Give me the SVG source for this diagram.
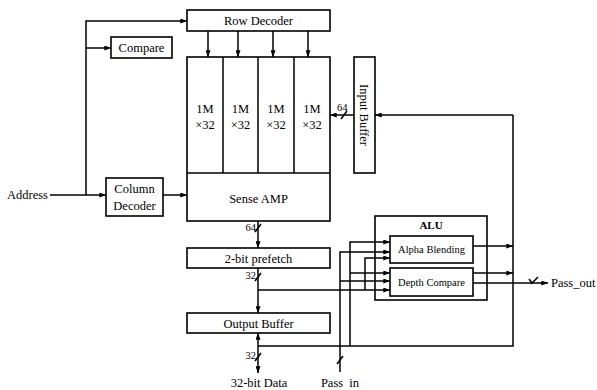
<svg xmlns="http://www.w3.org/2000/svg" width="597" height="390" viewBox="0 0 597 390">
<defs>
<marker id="ah" viewBox="0 0 8 6" refX="8" refY="3" markerWidth="7" markerHeight="5" markerUnits="userSpaceOnUse" orient="auto"><path d="M0,0 L8,3 L0,6 z" fill="#000"/></marker>
</defs>
<style>
.box{fill:#fff;stroke:#000;stroke-width:1.6}
.ln{fill:none;stroke:#000;stroke-width:1.5}
.arr{fill:none;stroke:#000;stroke-width:1.5;marker-end:url(#ah)}
text{font-family:"Liberation Serif","Times New Roman",serif;font-size:12.5px;fill:#000}
.c{text-anchor:middle}
.s{font-size:10.5px}
.t{font-size:10.5px}
.b{font-weight:bold;font-size:11px}
</style>
<rect width="597" height="390" fill="#fff"/>

<g id="address"><text x="7" y="199">Address</text></g>
<g id="compare"><rect class="box" x="111" y="37" width="61" height="21"/><text class="c" x="141.5" y="52">Compare</text></g>
<g id="row-decoder"><rect class="box" x="187" y="10" width="143" height="21"/><text class="c" x="258.5" y="25">Row Decoder</text></g>
<g id="memory">
<rect class="box" x="187" y="57" width="143" height="164"/>
<path class="ln" d="M223,57V173M258,57V173M294,57V173M187,173H330"/>
<text class="c" x="205" y="113">1M</text><text class="c" x="205" y="129">×32</text>
<text class="c" x="240.5" y="113">1M</text><text class="c" x="240.5" y="129">×32</text>
<text class="c" x="276" y="113">1M</text><text class="c" x="276" y="129">×32</text>
<text class="c" x="312" y="113">1M</text><text class="c" x="312" y="129">×32</text>
<text class="c" x="258.5" y="203">Sense AMP</text>
</g>
<g id="input-buffer"><rect class="box" x="354" y="57" width="21" height="116"/><text class="c" transform="translate(364.5,115) rotate(90)" y="4.5">Input Buffer</text></g>
<g id="column-decoder"><rect class="box" x="106" y="178" width="57" height="38"/><text class="c" x="134.5" y="193">Column</text><text class="c" x="134.5" y="210">Decoder</text></g>
<g id="prefetch"><rect class="box" x="187" y="248" width="143" height="20"/><text class="c" x="258.5" y="262.5">2-bit prefetch</text></g>
<g id="output-buffer"><rect class="box" x="187" y="313" width="143" height="20"/><text class="c" x="258.5" y="327.5">Output Buffer</text></g>
<g id="alu"><rect class="box" x="375" y="216" width="112" height="84"/><text class="c b" x="431" y="229">ALU</text></g>
<g id="alpha-blending"><rect class="box" x="390" y="236" width="83" height="27"/><text class="c s" x="431.5" y="253">Alpha Blending</text></g>
<g id="depth-compare"><rect class="box" x="390" y="268" width="83" height="28"/><text class="c s" x="431.5" y="286">Depth Compare</text></g>
<g id="labels">
<text class="c" x="259" y="387">32-bit Data</text>
<text class="c" x="340" y="387" xml:space="preserve">Pass  in</text>
<text x="551" y="287">Pass_out</text>
<text class="t" x="256" y="231" text-anchor="end">64</text>
<text class="t" x="256" y="279" text-anchor="end">32</text>
<text class="t" x="256" y="359" text-anchor="end">32</text>
<text class="t" x="337" y="111">64</text>
</g>

<g id="connectors">
<path class="arr" d="M50,195H106"/>
<path class="arr" d="M86,195V21H187"/>
<path class="arr" d="M86,48H111"/>
<path class="arr" d="M163,195H187"/>
<path class="arr" d="M208,31V57"/>
<path class="arr" d="M238,31V57"/>
<path class="arr" d="M273,31V57"/>
<path class="arr" d="M308,31V57"/>
<path class="arr" d="M354,115H330"/>
<path class="ln" d="M341,119L347,111"/>
<path class="ln" d="M258,346H513V115"/>
<path class="arr" d="M513,115H375"/>
<path class="arr" d="M258,221V248"/>
<path class="ln" d="M255,232L261,224"/>
<path class="arr" d="M258,268V313"/>
<path class="ln" d="M255,281L261,273"/>
<path class="arr" d="M258,290H390"/>
<path class="arr" d="M365,290V258H390"/>
<path class="arr" d="M258,346V333"/>
<path class="arr" d="M258,346V373"/>
<path class="ln" d="M255,361L261,353"/>
<path class="arr" d="M350,346V242H390"/>
<path class="arr" d="M350,273H390"/>
<path class="arr" d="M340,372V252H390"/>
<path class="arr" d="M340,281H390"/>
<path class="ln" d="M337,364L343,356"/>
<path class="arr" d="M473,246H513"/>
<path class="arr" d="M473,273H513"/>
<path class="arr" d="M473,283H548"/>
<path class="ln" d="M529,279L532,283L538,277"/>
</g>
</svg>
